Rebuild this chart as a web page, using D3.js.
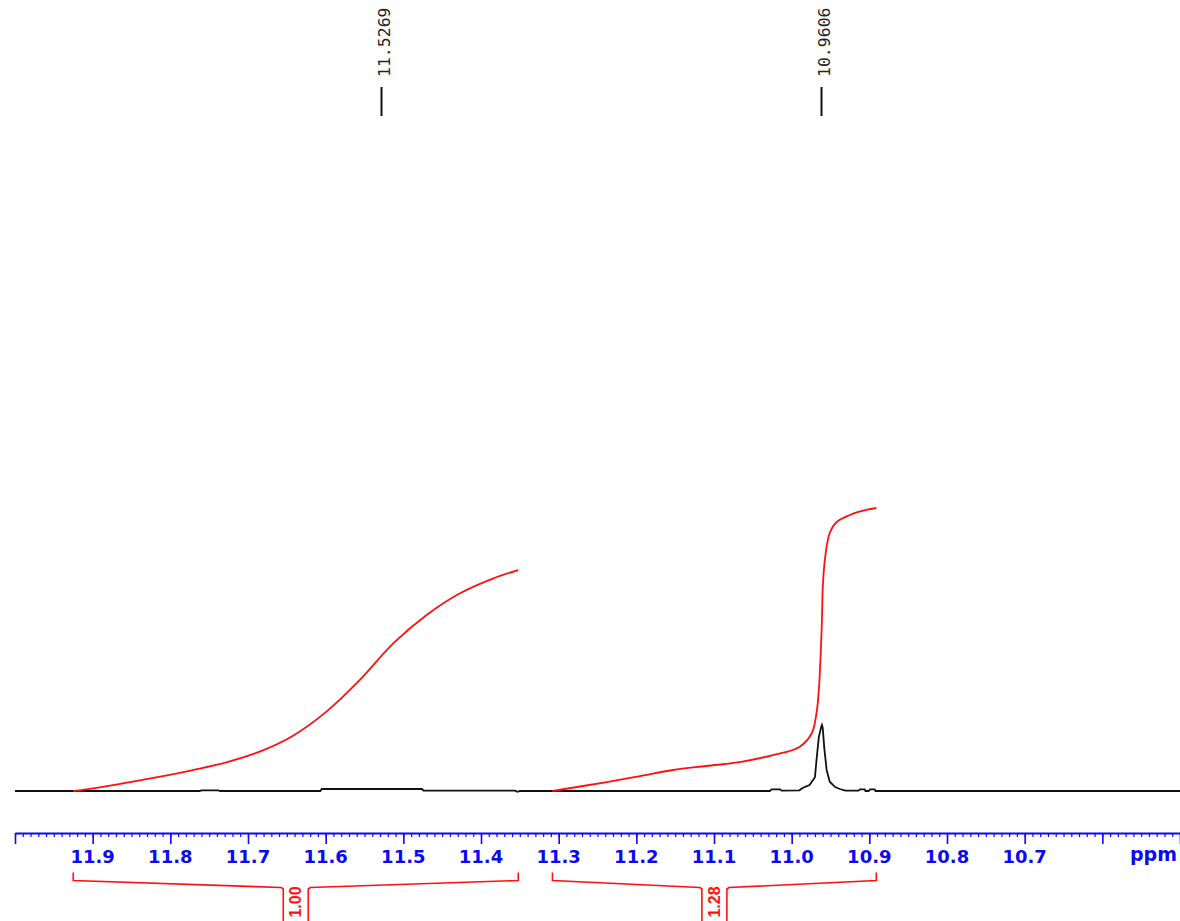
<!DOCTYPE html>
<html>
<head>
<meta charset="utf-8">
<script src="https://cdn.jsdelivr.net/npm/d3@7"></script>
<style>
  html, body { margin: 0; padding: 0; background: #fff; }
  svg { display: block; }
</style>
</head>
<body>
<svg id="chart" width="1180" height="921"></svg>
<script>
// ---------------- data ----------------
const spectrumPpm = [12.000, 11.762, 11.760, 11.758, 11.738, 11.736, 11.607, 11.605, 11.476, 11.474, 11.356, 11.354, 11.352, 11.350,
  11.028, 11.026, 11.015, 11.013, 10.990, 10.986, 10.977, 10.970, 10.968, 10.965, 10.962, 10.961, 10.960, 10.958, 10.955,
  10.951, 10.944, 10.938, 10.931, 10.914, 10.912, 10.906, 10.905, 10.901, 10.899, 10.893, 10.892, 10.500];
const spectrumIntensity = [0, 0, 0.8, 0.8, 0.8, 0, 0, 3.0, 3.0, 0.5, 0.5, -0.8, -0.8, 0,
  0, 2.5, 2.5, 0.5, 1.0, 4.5, 9, 21, 47, 82, 97, 100, 95.5, 65, 32,
  14, 6, 3, 0.5, 0.5, 2.5, 2.5, 0, 0, 2.5, 2.5, 0, 0];

const integral1Ppm = [11.925, 11.899, 11.856, 11.813, 11.771, 11.728, 11.685, 11.642, 11.599, 11.556, 11.513, 11.470, 11.427, 11.384, 11.352];
const integral1Value = [0, 4.0, 12.6, 21.7, 31.8, 43.4, 59.6, 83.8, 120.2, 168.2, 223.7, 266.7, 299.5, 322.2, 334.8];

const integral2Ppm = [11.308, 11.238, 11.195, 11.153, 11.110, 11.067, 11.024, 10.990, 10.974, 10.968, 10.965, 10.963, 10.961, 10.960, 10.957, 10.951, 10.942, 10.925, 10.904, 10.891];
const integral2Value = [0, 13.6, 22.7, 31.8, 37.9, 43.9, 54.5, 66.7, 87.9, 118.2, 153.0, 198.5, 259.1, 307.6, 353.0, 390.9, 407.6, 418.2, 425.8, 428.8];

const integralRanges = [[11.925, 11.352], [11.308, 10.891]];
const integralLabels = ["1.00", "1.28"];

const peakPpm = [11.5269, 10.9606];
const peakLabels = ["11.5269", "10.9606"];

const majorTickValues = [12.0, 11.9, 11.8, 11.7, 11.6, 11.5, 11.4, 11.3, 11.2, 11.1, 11.0, 10.9, 10.8, 10.7, 10.6, 10.5];
const tickLabelValues = [11.9, 11.8, 11.7, 11.6, 11.5, 11.4, 11.3, 11.2, 11.1, 11.0, 10.9, 10.8, 10.7];
const tickLabels = ["11.9", "11.8", "11.7", "11.6", "11.5", "11.4", "11.3", "11.2", "11.1", "11.0", "10.9", "10.8", "10.7"];
const axisUnit = "ppm";

// ---------------- drawing ----------------
const svg = d3.select("#chart");
const x = d3.scaleLinear().domain([12.0, 10.5]).range([15, 1180]);
const y = d3.scaleLinear().domain([0, 100]).range([791, 725]);

const axisY = 833;
const blue = "#0a0af0";
const red = "#ff1010";

// spectrum
const spec = spectrumPpm.map((p, i) => [p, spectrumIntensity[i]]);
svg.append("path").datum(spec)
  .attr("d", d3.line().x(d => x(d[0])).y(d => y(d[1])))
  .attr("fill", "none").attr("stroke", "#111").attr("stroke-width", 1.8);

// integrals
[[integral1Ppm, integral1Value], [integral2Ppm, integral2Value]].forEach(([pp, vv]) => {
  const pts = pp.map((p, i) => [p, vv[i]]);
  svg.append("path").datum(pts)
    .attr("d", d3.line().x(d => x(d[0])).y(d => y(d[1])).curve(d3.curveCatmullRom.alpha(0.5)))
    .attr("fill", "none").attr("stroke", red).attr("stroke-width", 1.8);
});

// peak labels
peakPpm.forEach((p, i) => {
  const px = Math.round(x(p)) - 0.5;
  svg.append("line").attr("x1", px).attr("x2", px).attr("y1", 87).attr("y2", 116)
    .attr("stroke", "#111").attr("stroke-width", 2);
  svg.append("text")
    .attr("transform", `translate(${px + 3},77) rotate(-90)`)
    .attr("text-anchor", "start")
    .attr("dominant-baseline", "central")
    .attr("font-family", "DejaVu Sans Mono, monospace")
    .attr("font-size", 16.5)
    .attr("fill", "#222")
    .text(peakLabels[i]);
});

// axis: minor ticks
const minorValues = d3.range(0, 151).map(i => +(12.0 - i * 0.01).toFixed(2));
const minorAxis = d3.axisBottom(x).tickValues(minorValues).tickSize(4).tickSizeOuter(0).tickFormat("");
const gMinor = svg.append("g").attr("transform", `translate(0,${axisY})`).call(minorAxis);
gMinor.selectAll("line").attr("stroke", blue).attr("stroke-width", 1.2);
gMinor.select(".domain").attr("stroke", blue).attr("stroke-width", 2);

// axis: major ticks
const majorAxis = d3.axisBottom(x).tickValues(majorTickValues).tickSize(11).tickSizeOuter(0).tickFormat("");
const gMajor = svg.append("g").attr("transform", `translate(0,${axisY})`).call(majorAxis);
gMajor.selectAll("line").attr("stroke", blue).attr("stroke-width", 1.6);
gMajor.select(".domain").remove();

// tick labels
svg.append("g").selectAll("text").data(tickLabelValues).join("text")
  .attr("x", d => x(d)).attr("y", 863)
  .attr("text-anchor", "middle")
  .attr("font-family", "DejaVu Sans, sans-serif")
  .attr("font-weight", "bold")
  .attr("font-size", 18)
  .attr("fill", blue)
  .text((d, i) => tickLabels[i]);
svg.append("text")
  .attr("x", 1177).attr("y", 861)
  .attr("text-anchor", "end")
  .attr("font-family", "DejaVu Sans, sans-serif")
  .attr("font-weight", "bold")
  .attr("font-size", 19)
  .attr("fill", blue)
  .text(axisUnit);

// integral brackets
integralRanges.forEach((r, i) => {
  const x1 = x(r[0]), x2 = x(r[1]);
  const c = (x1 + x2) / 2;
  const half = 12.5;
  const leftPts = [[x1, 872.5], [x1, 880.5], [c - half - 2, 887.5], [c - half, 889], [c - half, 921]];
  const rightPts = [[c + half, 921], [c + half, 889], [c + half + 2, 887.5], [x2, 880.5], [x2, 872.5]];
  [leftPts, rightPts].forEach(pts => {
    svg.append("path").attr("d", d3.line()(pts))
      .attr("fill", "none").attr("stroke", red).attr("stroke-width", 1.6);
  });
  svg.append("text")
    .attr("transform", `translate(${c},902) rotate(-90)`)
    .attr("text-anchor", "middle")
    .attr("dominant-baseline", "central")
    .attr("font-family", "Liberation Sans, Arial, sans-serif")
    .attr("font-weight", "bold")
    .attr("font-size", 16)
    .attr("fill", red)
    .text(integralLabels[i]);
});
</script>
</body>
</html>
